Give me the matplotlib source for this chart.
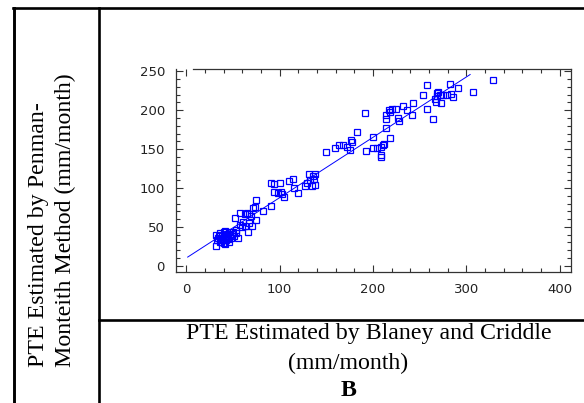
import matplotlib
matplotlib.use("Agg")
import matplotlib.pyplot as plt
from matplotlib.lines import Line2D
from matplotlib.ticker import MultipleLocator
import numpy as np

# PTE by Blaney-Criddle (x) vs PTE by Penman-Monteith (y), mm/month
bc = [32, 32, 33, 34, 36, 38, 40, 40, 41, 42, 43, 44, 46, 46, 47, 48, 50, 51, 53, 53,
      55, 38, 35, 36, 44, 42, 39, 37, 45, 49,
      52, 58, 63, 65, 67, 69, 71, 74, 75, 75, 61, 63, 67, 70, 66, 58, 82, 91, 60,
      91, 94, 100, 94, 98, 101, 103, 105, 110, 114, 115, 120, 127, 131, 132, 135, 136,
      137, 138, 129, 138,
      150, 159, 164, 168, 172, 175, 176, 177, 183, 191, 193, 200, 200, 204, 208, 211,
      212, 208, 209, 218, 214,
      214, 214, 217, 218, 220, 225, 227, 228, 232, 236, 242, 243, 254, 258, 258, 264,
      267, 268, 269, 272, 273, 275, 279, 282, 283, 286, 291, 307, 329, 266, 270]
pm = [25, 40, 33, 36, 31, 35, 44, 29, 38, 28, 33, 41, 31, 44, 40, 36, 44, 38, 46, 42,
      36, 40, 38, 42, 37, 45, 33, 30, 35, 41,
      62, 68, 66, 68, 66, 64, 74, 76, 84, 59, 56, 51, 55, 51, 43, 53, 70, 77, 50,
      107, 105, 107, 95, 94, 95, 92, 89, 109, 111, 100, 94, 102, 118, 110, 102, 115,
      112, 104, 107, 118,
      146, 152, 155, 155, 153, 149, 162, 159, 172, 196, 147, 166, 152, 152, 153, 155,
      157, 140, 142, 164, 177,
      189, 194, 200, 198, 201, 202, 190, 186, 206, 200, 194, 209, 219, 233, 201, 189,
      211, 222, 218, 220, 209, 219, 220, 234, 221, 217, 229, 223, 239, 215, 224]

# fitted line
fit_intercept = 10.0
fit_slope = 0.776
fit_range = [1.5, 304]

W, H = 584, 403
fig = plt.figure(figsize=(W / 100, H / 100), dpi=100)

ax = fig.add_axes([176 / W, 1 - 272 / H, (571 - 176) / W, (272 - 69) / H])
ax.plot(bc, pm, "s", ms=4.2, mfc="none", mec="#0000ff", mew=0.9)
fx = np.array(fit_range)
ax.plot(fx, fit_intercept + fit_slope * fx, color="#0000ff", lw=0.7)

ax.set_xlim(-11, 412)
ax.set_ylim(-8, 253)
ax.set_xticks([0, 100, 200, 300, 400])
ax.set_yticks([0, 50, 100, 150, 200, 250])
ax.xaxis.set_minor_locator(MultipleLocator(20))
ax.yaxis.set_minor_locator(MultipleLocator(10))
ax.tick_params(which="both", direction="in", top=True, right=True,
               color="#333333", width=0.8)
ax.tick_params(which="major", length=5, labelsize=9.5, labelcolor="#222222", pad=8)
ax.tick_params(which="minor", length=3)
for s in ax.spines.values():
    s.set_color("#333333")
    s.set_linewidth(0.9)
ax.spines["top"].set_bounds(7.5, 412)

# table borders
def border(x0, y0, x1, y1, lw=1.9):
    fig.add_artist(Line2D([x0 / W, x1 / W], [1 - y0 / H, 1 - y1 / H],
                          color="black", lw=lw))

border(13, 8, 584, 8)
border(13.5, 8, 13.5, 403, lw=2.1)
border(99, 8, 99, 403)
border(99, 320, 584, 320)

serif = "Liberation Serif"
fs = 17.2
fig.text(369 / W, 1 - 334 / H, "PTE Estimated by Blaney and Criddle",
         family=serif, fontsize=fs, ha="center", va="center")
fig.text(348 / W, 1 - 363 / H, "(mm/month)",
         family=serif, fontsize=fs, ha="center", va="center")
fig.text(349 / W, 1 - 390 / H, "B",
         family=serif, fontsize=fs, fontweight="bold", ha="center", va="center")
fig.text(39 / W, 1 - 367 / H, "PTE Estimated by Penman-",
         family=serif, fontsize=fs, rotation=90, ha="center", va="bottom")
fig.text(65 / W, 1 - 367 / H, "Monteith Method (mm/month)",
         family=serif, fontsize=fs, rotation=90, ha="center", va="bottom")

fig.savefig("out.png", dpi=100)
